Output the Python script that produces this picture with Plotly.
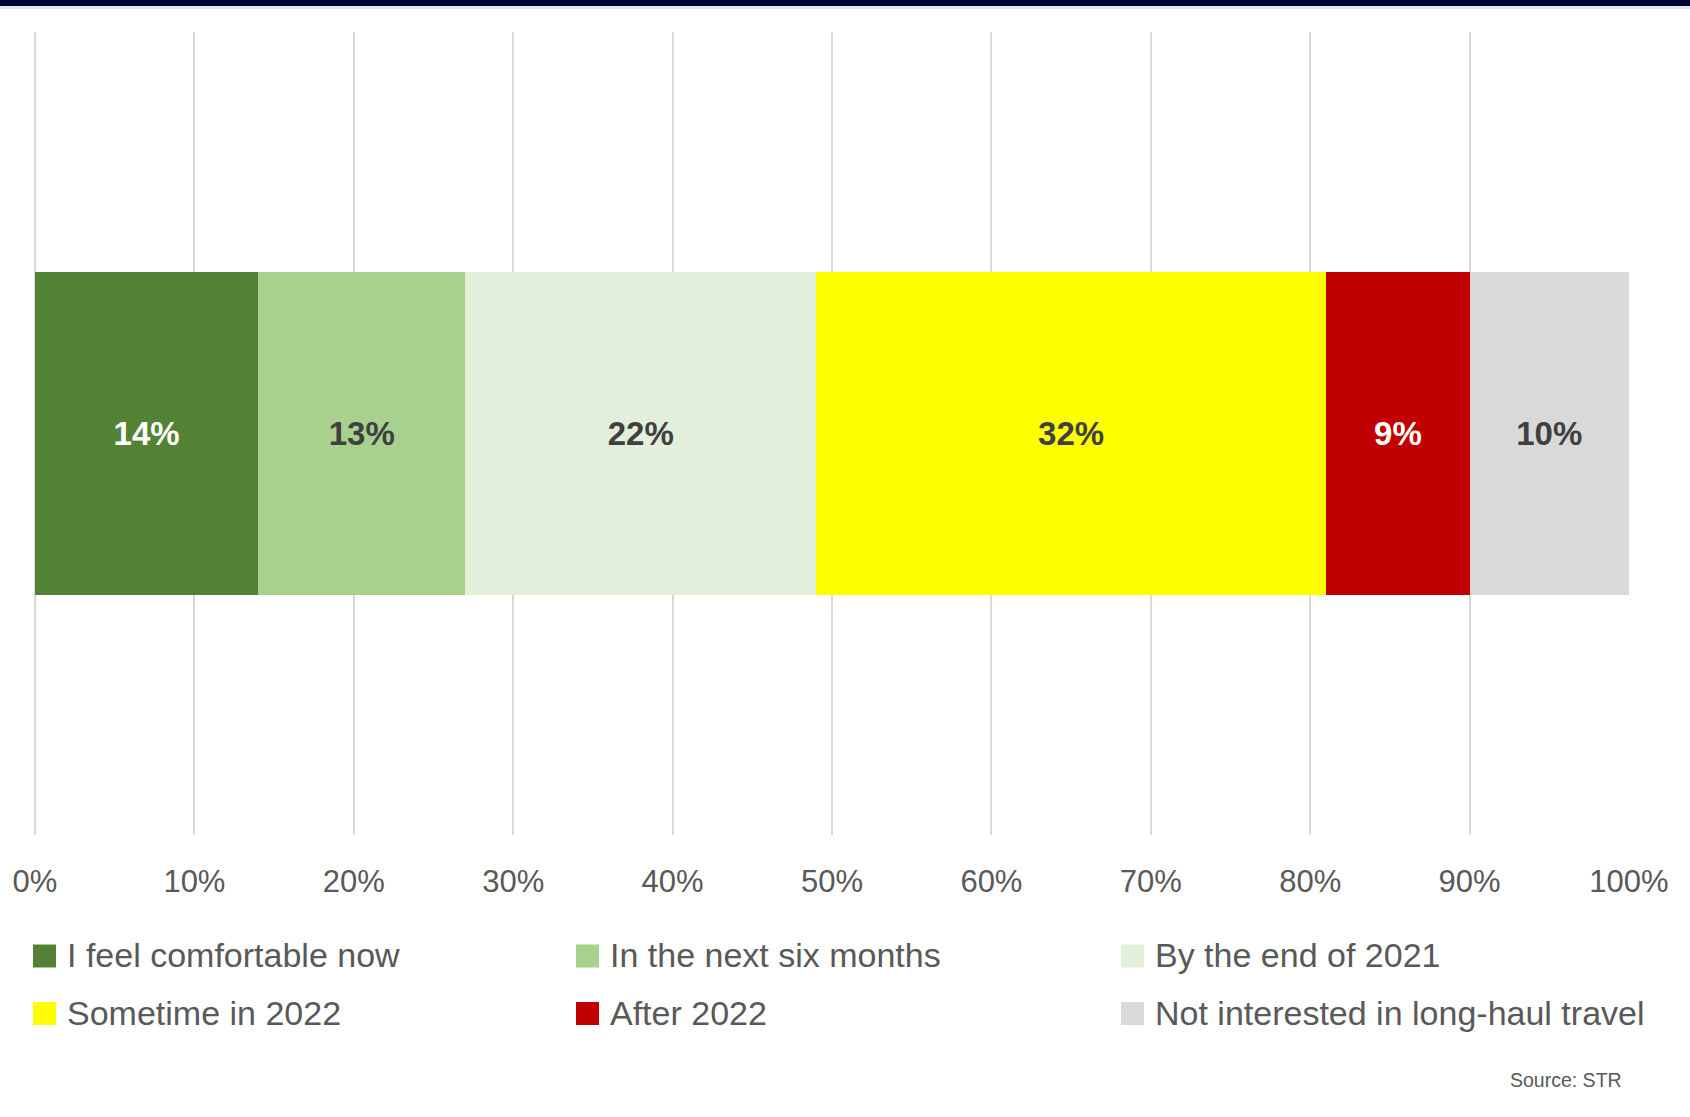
import plotly.graph_objects as go

# ---- data ----
categories = ["I feel comfortable now", "In the next six months", "By the end of 2021",
              "Sometime in 2022", "After 2022", "Not interested in long-haul travel"]
values = [0.14, 0.13, 0.22, 0.32, 0.09, 0.10]
colors = ["#548235", "#A9D18E", "#E2EFDA", "#FFFF00", "#C00000", "#D9D9D9"]
label_colors = ["#FFFFFF", "#404040", "#404040", "#404040", "#FFFFFF", "#404040"]
tick_vals = [i / 10 for i in range(11)]
tick_text = [f"{i * 10}%" for i in range(11)]
source_text = "Source: STR"

# ---- layout geometry (pixels) ----
W, H = 1690, 1117
L, R, T, B = 35, 61, 32, 282
PW, PH = W - L - R, H - T - B

def px(x):
    return (x - L) / PW

def py(y):
    return (H - B - y) / PH

FONT = "Liberation Sans, Arial, sans-serif"

fig = go.Figure()
for name, v, c, lc in zip(categories, values, colors, label_colors):
    fig.add_trace(go.Bar(
        y=[0], x=[v], orientation="h", name=name,
        marker=dict(color=c, line=dict(width=0)),
        text=[f"{round(v * 100)}%"], textposition="inside",
        insidetextanchor="middle", textangle=0,
        textfont=dict(family=FONT, size=33, color=lc, weight="bold"),
        showlegend=False, hoverinfo="skip",
    ))

shapes = []
annotations = []
# top navy band
shapes.append(dict(type="rect", xref="paper", yref="paper", x0=px(0), x1=px(W),
                   y0=py(6), y1=py(0), fillcolor="#000033", line=dict(width=0), layer="above"))
shapes.append(dict(type="rect", xref="paper", yref="paper", x0=px(0), x1=px(W),
                   y0=py(9), y1=py(6), fillcolor="#E6E6E6", line=dict(width=0), layer="above"))

# manual legend (3 columns, 2 rows)
col_sw = [33, 576, 1121]
col_tx = [67, 610, 1155]
row_y = [956, 1013.5]
sw = 23
for i, (name, c) in enumerate(zip(categories, colors)):
    r, k = divmod(i, 3)
    x0 = col_sw[k]
    yc = row_y[r]
    shapes.append(dict(type="rect", xref="paper", yref="paper",
                       x0=px(x0), x1=px(x0 + sw), y0=py(yc + sw / 2), y1=py(yc - sw / 2),
                       fillcolor=c, line=dict(width=0)))
    annotations.append(dict(xref="paper", yref="paper", x=px(col_tx[k] - 2), y=py(yc - 1),
                            text=name, showarrow=False, xanchor="left", yanchor="middle",
                            font=dict(family=FONT, size=34, color="#595959")))

annotations.append(dict(xref="paper", yref="paper", x=px(1624), y=py(1080),
                        text=source_text, showarrow=False, xanchor="right", yanchor="middle",
                        font=dict(family=FONT, size=19.5, color="#595959")))

fig.update_layout(
    width=W, height=H,
    margin=dict(l=L, r=R, t=T, b=B, pad=0),
    barmode="stack", bargap=0.598,
    plot_bgcolor="white", paper_bgcolor="white",
    showlegend=False,
    shapes=shapes, annotations=annotations,
    xaxis=dict(range=[0, 1], tickvals=tick_vals, ticktext=tick_text,
               showgrid=True, gridcolor="#D9D9D9", gridwidth=1.5,
               zeroline=True, zerolinecolor="#D9D9D9", zerolinewidth=1.5,
               showline=False, ticks="", ticklabelstandoff=25,
               tickfont=dict(family=FONT, size=31, color="#595959"),
               fixedrange=True),
    yaxis=dict(range=[-0.5, 0.5], showticklabels=False, showgrid=False,
               zeroline=False, showline=False, fixedrange=True),
)

fig.write_html("out.html")
